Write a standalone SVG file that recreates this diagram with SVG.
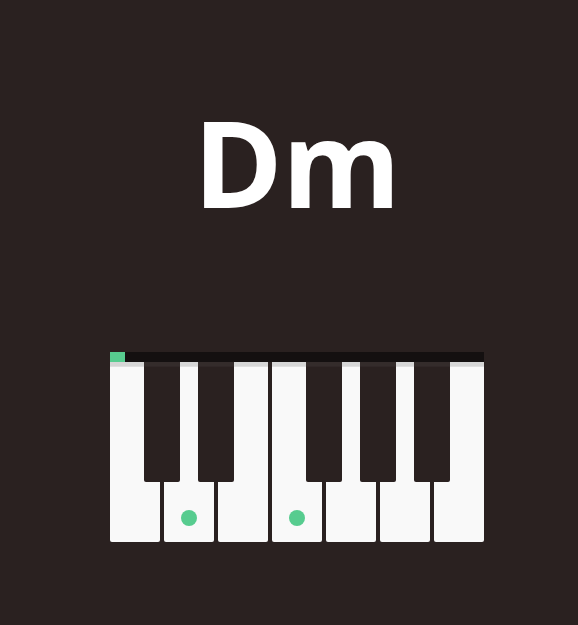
<svg xmlns="http://www.w3.org/2000/svg" width="578" height="625" viewBox="0 0 578 625">
<style>
.white{fill:#f9f9f9}
.black{fill:#2a2120}
.blacktop{fill:#342c2b}
.dot{fill:#57cc8f}
.title{font-family:"Open Sans","Liberation Sans",sans-serif;font-weight:700;font-size:121px;fill:#ffffff}
</style>
<rect width="578" height="625" fill="#2a2120"/>
<g id="title"><text class="title" x="297" y="208" text-anchor="middle">D<tspan dx="-1">m</tspan></text></g>
<g id="keyboard">
<rect x="110" y="352" width="374" height="10" fill="#141010"/>
<rect x="110" y="352" width="15" height="10" fill="#57cc8f"/>
<g id="white-keys">
<rect class="white" x="110" y="362" width="50" height="180" rx="2"/>
<rect class="white" x="164" y="362" width="50" height="180" rx="2"/>
<rect class="white" x="218" y="362" width="50" height="180" rx="2"/>
<rect class="white" x="272" y="362" width="50" height="180" rx="2"/>
<rect class="white" x="326" y="362" width="50" height="180" rx="2"/>
<rect class="white" x="380" y="362" width="50" height="180" rx="2"/>
<rect class="white" x="434" y="362" width="50" height="180" rx="2"/>
<g fill="#d6d6d6">
<rect x="110" y="362" width="50" height="4.7"/>
<rect x="164" y="362" width="50" height="4.7"/>
<rect x="218" y="362" width="50" height="4.7"/>
<rect x="272" y="362" width="50" height="4.7"/>
<rect x="326" y="362" width="50" height="4.7"/>
<rect x="380" y="362" width="50" height="4.7"/>
<rect x="434" y="362" width="50" height="4.7"/>
</g>
</g>
<g id="black-keys">
<rect class="black" x="144" y="362" width="36" height="120" rx="2"/>
<rect class="black" x="198" y="362" width="36" height="120" rx="2"/>
<rect class="black" x="306" y="362" width="36" height="120" rx="2"/>
<rect class="black" x="360" y="362" width="36" height="120" rx="2"/>
<rect class="black" x="414" y="362" width="36" height="120" rx="2"/>
<rect class="blacktop" x="144" y="362" width="36" height="4.7"/>
<rect class="blacktop" x="198" y="362" width="36" height="4.7"/>
<rect class="blacktop" x="306" y="362" width="36" height="4.7"/>
<rect class="blacktop" x="360" y="362" width="36" height="4.7"/>
<rect class="blacktop" x="414" y="362" width="36" height="4.7"/>
</g>
<g id="dots">
<circle class="dot" cx="189" cy="518" r="8"/>
<circle class="dot" cx="297" cy="518" r="8"/>
</g>
</g>
</svg>
